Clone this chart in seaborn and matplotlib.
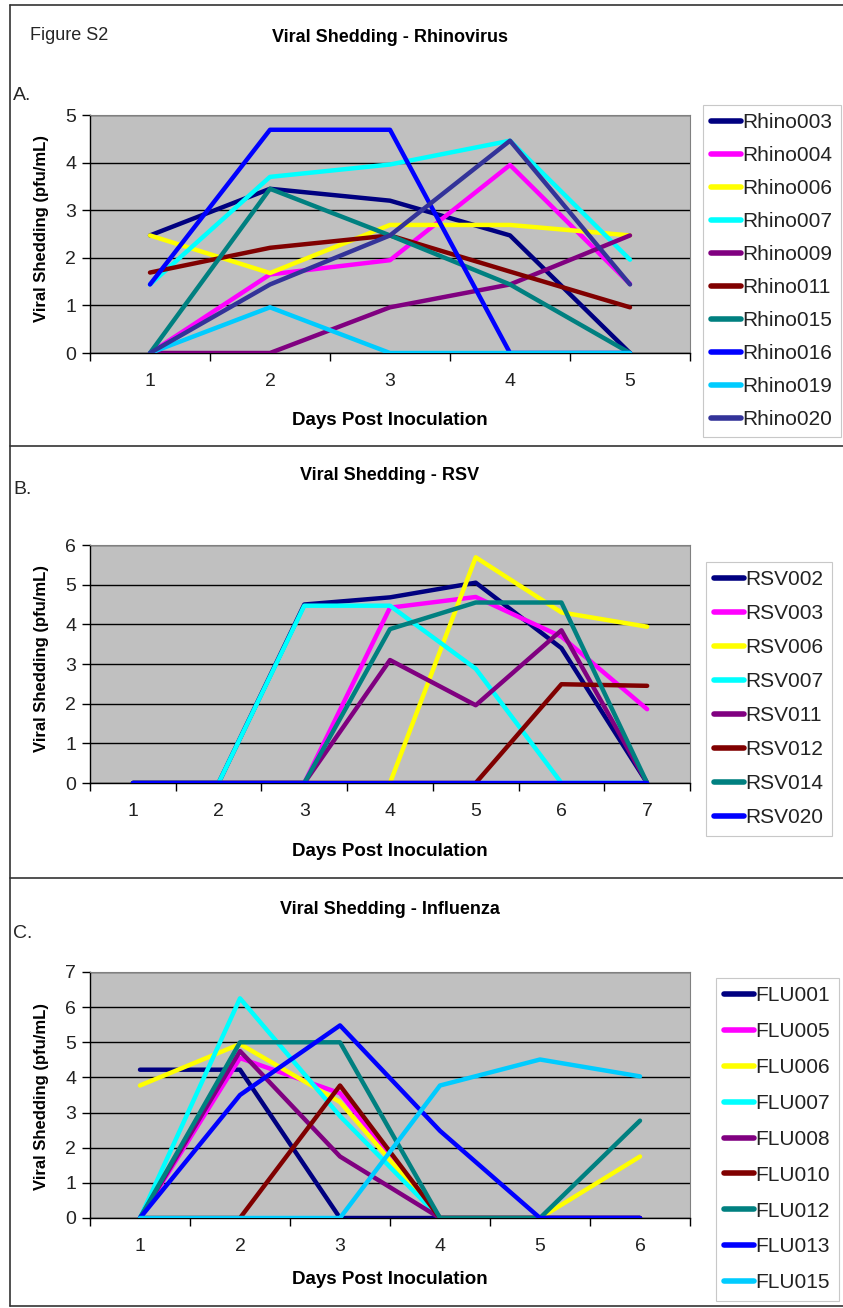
import numpy as np
import pandas as pd
import matplotlib
matplotlib.use("Agg")
import matplotlib.pyplot as plt
from matplotlib.lines import Line2D
import seaborn as sns

# ---------------- data ----------------
rhino_days = [1, 2, 3, 4, 5]
rhino_ids = ["Rhino003", "Rhino004", "Rhino006", "Rhino007", "Rhino009",
             "Rhino011", "Rhino015", "Rhino016", "Rhino019", "Rhino020"]
rhino003 = [2.47, 3.45, 3.2, 2.47, 0]
rhino004 = [0, 1.65, 1.95, 3.95, 1.45]
rhino006 = [2.47, 1.68, 2.69, 2.69, 2.47]
rhino007 = [1.44, 3.7, 3.96, 4.46, 1.96]
rhino009 = [0, 0, 0.96, 1.44, 2.47]
rhino011 = [1.69, 2.21, 2.47, 1.71, 0.96]
rhino015 = [0, 3.45, 2.47, 1.44, 0]
rhino016 = [1.44, 4.69, 4.69, 0, 0]
rhino019 = [0, 0.96, 0, 0, 0]
rhino020 = [0, 1.44, 2.47, 4.46, 1.44]
rhino_vals = [rhino003, rhino004, rhino006, rhino007, rhino009,
              rhino011, rhino015, rhino016, rhino019, rhino020]

rsv_days = [1, 2, 3, 4, 5, 6, 7]
rsv_ids = ["RSV002", "RSV003", "RSV006", "RSV007", "RSV011", "RSV012", "RSV014", "RSV020"]
rsv002 = [0, 0, 4.5, 4.68, 5.05, 3.4, 0]
rsv003 = [0, 0, 0, 4.42, 4.69, 3.69, 1.86]
rsv006 = [0, 0, 0, 0, 5.69, 4.3, 3.94]
rsv007 = [0, 0, 4.47, 4.47, 2.88, 0, 0]
rsv011 = [0, 0, 0, 3.1, 1.96, 3.85, 0]
rsv012 = [0, 0, 0, 0, 0, 2.49, 2.45]
rsv014 = [0, 0, 0, 3.88, 4.55, 4.55, 0]
rsv020 = [0, 0, 0, 0, 0, 0, 0]
rsv_vals = [rsv002, rsv003, rsv006, rsv007, rsv011, rsv012, rsv014, rsv020]

flu_days = [1, 2, 3, 4, 5, 6]
flu_ids = ["FLU001", "FLU005", "FLU006", "FLU007", "FLU008",
           "FLU010", "FLU012", "FLU013", "FLU015"]
flu001 = [4.22, 4.22, 0, 0, 0, 0]
flu005 = [0, 4.55, 3.55, 0, 0, 0]
flu006 = [3.77, 4.95, 3.3, 0, 0, 1.75]
flu007 = [0, 6.25, 2.9, 0, 0, 0]
flu008 = [0, 4.75, 1.75, 0, 0, 0]
flu010 = [0, 0, 3.77, 0, 0, 0]
flu012 = [0, 5.0, 5.0, 0, 0, 2.77]
flu013 = [0, 3.5, 5.48, 2.48, 0, 0]
flu015 = [0, 0, 0, 3.77, 4.51, 4.03]
flu_vals = [flu001, flu005, flu006, flu007, flu008, flu010, flu012, flu013, flu015]

excel_colors = ["#000080", "#FF00FF", "#FFFF00", "#00FFFF", "#800080",
                "#800000", "#008080", "#0000FF", "#00CCFF", "#333399"]

# ---------------- style ----------------
sns.set_style("ticks")
plt.rcParams["font.family"] = ["Liberation Sans", "DejaVu Sans"]

W, H = 843, 1308
fig = plt.figure(figsize=(W / 100, H / 100), dpi=100)


def fx(x):
    return x / W


def fy(y):
    return 1 - y / H


def make_panel(days, ids, vals, top, bottom, ymax, legend_box, legend_spacing):
    left, right = 90, 690
    ax = fig.add_axes([fx(left), fy(bottom), (right - left) / W, (bottom - top) / H])
    ax.set_facecolor("#C0C0C0")
    rows = []
    for sid, v in zip(ids, vals):
        for d, val in zip(days, v):
            rows.append({"day": d, "subject": sid, "value": val})
    df = pd.DataFrame(rows)
    pal = dict(zip(ids, excel_colors[:len(ids)]))
    sns.lineplot(data=df, x="day", y="value", hue="subject", hue_order=ids,
                 palette=pal, linewidth=3.2, sort=False, estimator=None,
                 legend=False, ax=ax, zorder=3)
    n = len(days)
    ax.set_xlim(0.5, n + 0.5)
    ax.set_ylim(0, ymax)
    ax.set_xticks(np.arange(0.5, n + 1, 1.0))
    ax.set_xticklabels([])
    ax.set_xticks(days, minor=True)
    ax.set_xticklabels([str(d) for d in days], minor=True)
    ax.tick_params(axis="x", which="major", length=6, direction="out", width=1, color="black")
    ax.tick_params(axis="x", which="minor", length=0, pad=14.5, labelsize=14, labelcolor="#222222")
    ax.set_yticks(range(0, ymax + 1))
    ax.tick_params(axis="y", length=6, direction="out", width=1, color="black",
                   labelsize=14, labelcolor="#222222", pad=4)
    ax.grid(axis="y", color="black", linewidth=1.0, zorder=1)
    ax.grid(axis="x", visible=False)
    ax.set_axisbelow(True)
    for s in ["top", "right"]:
        ax.spines[s].set_color("#808080")
        ax.spines[s].set_linewidth(0.8)
    for s in ["left", "bottom"]:
        ax.spines[s].set_color("black")
        ax.spines[s].set_linewidth(1.0)
    ax.set_xlabel("")
    ax.set_ylabel("")

    handles = [Line2D([0], [0], color=c, lw=4, solid_capstyle="round")
               for c in excel_colors[:len(ids)]]
    lx, ly = legend_box
    leg = fig.legend(handles, ids, loc="upper left",
                     bbox_to_anchor=(fx(lx), fy(ly)), bbox_transform=fig.transFigure,
                     fontsize=15, frameon=True, fancybox=False,
                     edgecolor="#C8C8C8", facecolor="white", framealpha=1,
                     handlelength=1.4, handletextpad=0.1, labelspacing=legend_spacing,
                     borderpad=0.4, borderaxespad=0)
    leg.get_frame().set_linewidth(0.8)
    for t in leg.get_texts():
        t.set_color("#222222")
    return ax


make_panel(rhino_days, rhino_ids, rhino_vals, 115, 353, 5, (703, 105), 0.67)
make_panel(rsv_days, rsv_ids, rsv_vals, 545, 783, 6, (706, 562), 0.72)
make_panel(flu_days, flu_ids, flu_vals, 972, 1218, 7, (716, 978), 0.81)

# ---------------- texts ----------------
title_kw = dict(fontsize=13, fontweight="bold", ha="center", va="center", color="black")
lab_kw = dict(fontsize=13.5, fontweight="bold", ha="center", va="center", color="black")
fig.text(fx(30), fy(35), "Figure S2", fontsize=13, ha="left", va="center")
fig.text(fx(390), fy(37), "Viral Shedding - Rhinovirus", **title_kw)
fig.text(fx(390), fy(475), "Viral Shedding - RSV", **title_kw)
fig.text(fx(390), fy(910), "Viral Shedding - Influenza", **title_kw)
fig.text(fx(13), fy(96), "A.", fontsize=14, ha="left", va="center")
fig.text(fx(13), fy(490), "B.", fontsize=14, ha="left", va="center")
fig.text(fx(13), fy(934), "C.", fontsize=14, ha="left", va="center")
for yc in (420, 851, 1280):
    fig.text(fx(390), fy(yc), "Days Post Inoculation", **lab_kw)
for yc in (228, 658, 1097):
    fig.text(fx(42), fy(yc), "Viral Shedding (pfu/mL)", rotation=90,
             fontsize=12, fontweight="bold", ha="center", va="center", color="black")

# ---------------- panel frames ----------------
frame_kw = dict(color="#333333", linewidth=1.2, transform=fig.transFigure)
fig.add_artist(Line2D([fx(10), fx(10)], [fy(5), fy(1306)], **frame_kw))
for yy in (5, 446, 878, 1306):
    fig.add_artist(Line2D([fx(10), fx(843)], [fy(yy), fy(yy)], **frame_kw))

fig.savefig("out.png", dpi=100, facecolor="white")
